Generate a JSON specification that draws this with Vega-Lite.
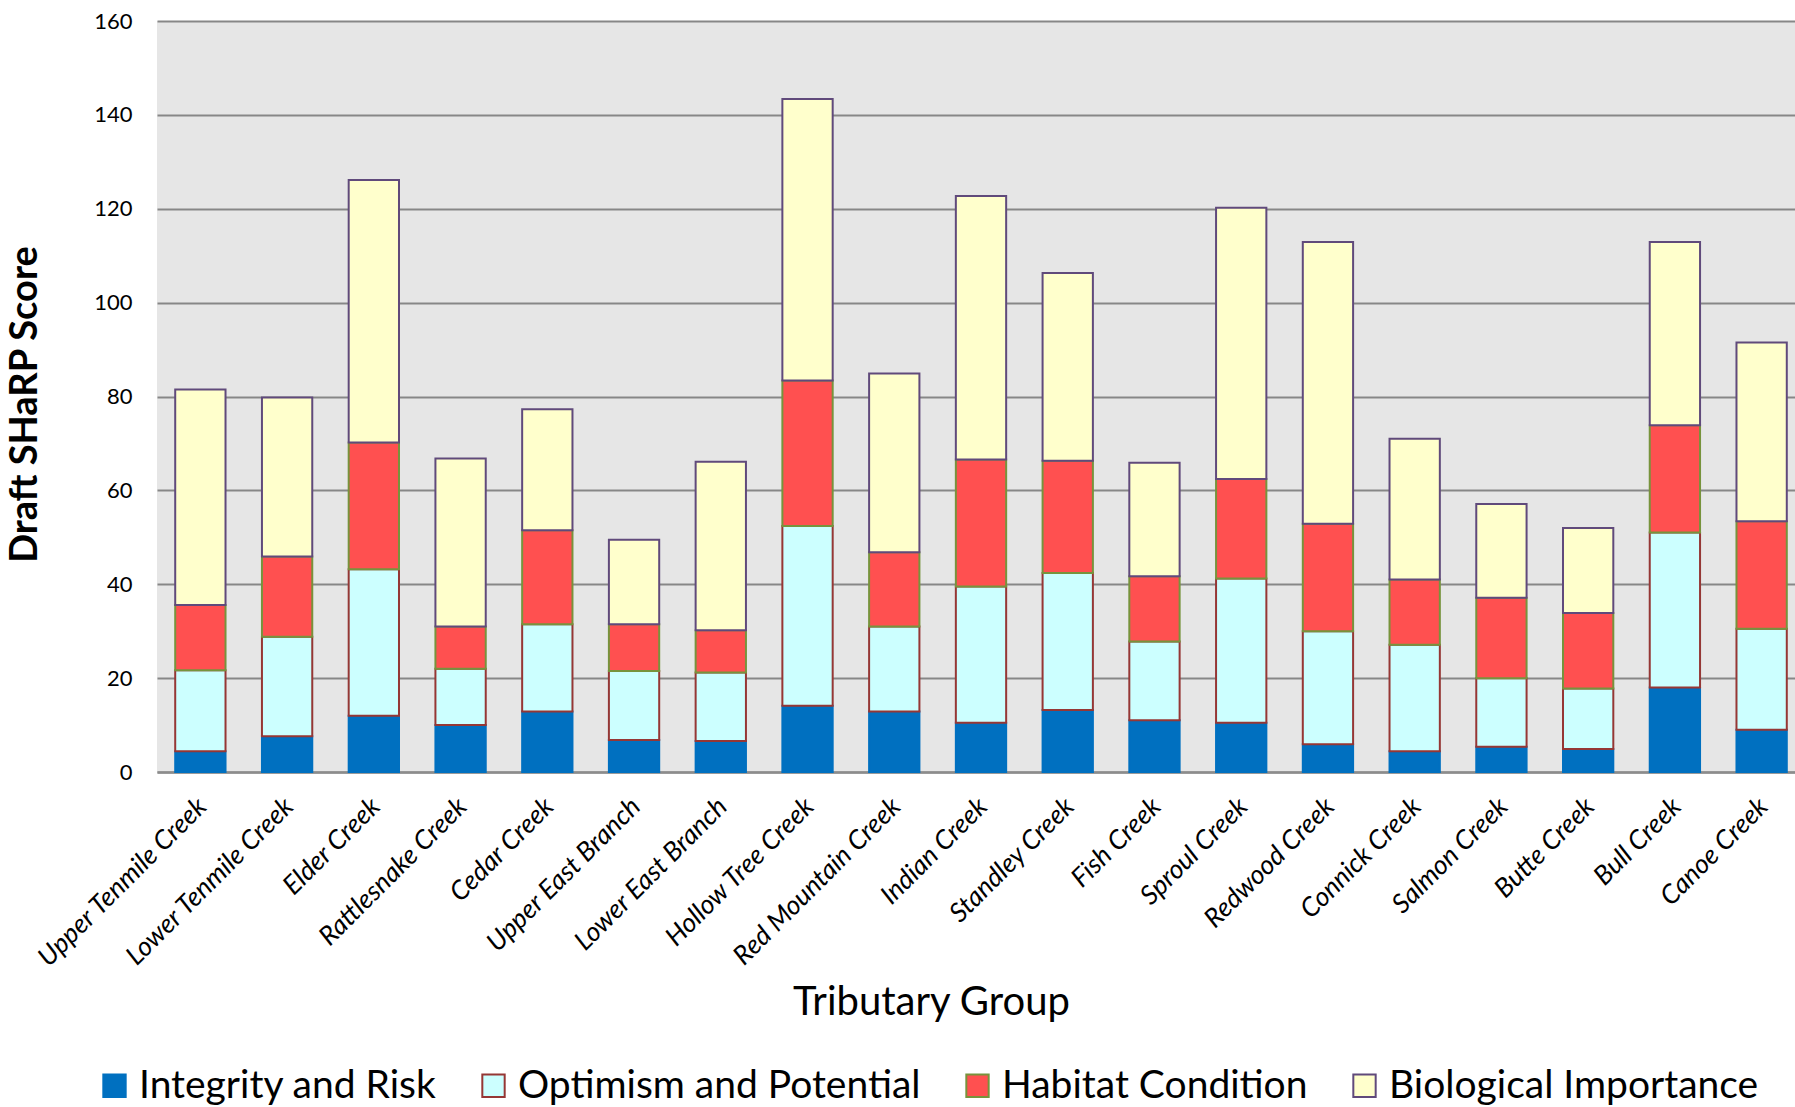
{
  "$schema": "https://vega.github.io/schema/vega-lite/v6.json",
  "width": 1648,
  "height": 751,
  "autosize": {"type": "none"},
  "padding": {"left": 157, "top": 21, "right": 0, "bottom": 335},
  "background": "white",
  "config": {
    "font": "Lato",
    "view": {"fill": "#e6e6e6", "stroke": null}
  },
  "data": {
    "values": [
      {"creek": "Upper Tenmile Creek", "Integrity and Risk": 4.4, "Optimism and Potential": 17.3, "Habitat Condition": 13.9, "Biological Importance": 45.9},
      {"creek": "Lower Tenmile Creek", "Integrity and Risk": 7.6, "Optimism and Potential": 21.2, "Habitat Condition": 17.1, "Biological Importance": 33.9},
      {"creek": "Elder Creek", "Integrity and Risk": 12.0, "Optimism and Potential": 31.2, "Habitat Condition": 27.0, "Biological Importance": 55.9},
      {"creek": "Rattlesnake Creek", "Integrity and Risk": 10.0, "Optimism and Potential": 12.0, "Habitat Condition": 9.0, "Biological Importance": 35.8},
      {"creek": "Cedar Creek", "Integrity and Risk": 12.9, "Optimism and Potential": 18.6, "Habitat Condition": 20.0, "Biological Importance": 25.8},
      {"creek": "Upper East Branch", "Integrity and Risk": 6.8, "Optimism and Potential": 14.7, "Habitat Condition": 10.0, "Biological Importance": 18.0},
      {"creek": "Lower East Branch", "Integrity and Risk": 6.6, "Optimism and Potential": 14.6, "Habitat Condition": 9.0, "Biological Importance": 35.9},
      {"creek": "Hollow Tree Creek", "Integrity and Risk": 14.1, "Optimism and Potential": 38.3, "Habitat Condition": 31.0, "Biological Importance": 60.0},
      {"creek": "Red Mountain Creek", "Integrity and Risk": 12.9, "Optimism and Potential": 18.1, "Habitat Condition": 15.8, "Biological Importance": 38.1},
      {"creek": "Indian Creek", "Integrity and Risk": 10.5, "Optimism and Potential": 29.0, "Habitat Condition": 27.1, "Biological Importance": 56.1},
      {"creek": "Standley  Creek", "Integrity and Risk": 13.2, "Optimism and Potential": 29.2, "Habitat Condition": 23.9, "Biological Importance": 40.0},
      {"creek": "Fish Creek", "Integrity and Risk": 11.0, "Optimism and Potential": 16.8, "Habitat Condition": 13.9, "Biological Importance": 24.2},
      {"creek": "Sproul Creek", "Integrity and Risk": 10.5, "Optimism and Potential": 30.7, "Habitat Condition": 21.2, "Biological Importance": 57.8},
      {"creek": "Redwood Creek", "Integrity and Risk": 5.9, "Optimism and Potential": 24.1, "Habitat Condition": 22.9, "Biological Importance": 60.0},
      {"creek": "Connick Creek", "Integrity and Risk": 4.4, "Optimism and Potential": 22.7, "Habitat Condition": 13.9, "Biological Importance": 30.0},
      {"creek": "Salmon Creek", "Integrity and Risk": 5.4, "Optimism and Potential": 14.6, "Habitat Condition": 17.1, "Biological Importance": 20.0},
      {"creek": "Butte Creek", "Integrity and Risk": 4.9, "Optimism and Potential": 12.9, "Habitat Condition": 16.1, "Biological Importance": 18.1},
      {"creek": "Bull Creek", "Integrity and Risk": 18.0, "Optimism and Potential": 33.0, "Habitat Condition": 22.9, "Biological Importance": 39.0},
      {"creek": "Canoe Creek", "Integrity and Risk": 9.0, "Optimism and Potential": 21.5, "Habitat Condition": 22.9, "Biological Importance": 38.1}
    ]
  },
  "transform": [
    {"fold": ["Integrity and Risk", "Optimism and Potential", "Habitat Condition", "Biological Importance"], "as": ["Category", "Score"]},
    {"window": [{"op": "row_number", "as": "layer"}], "groupby": ["creek"]}
  ],
  "mark": {"type": "bar", "strokeWidth": 2},
  "encoding": {
    "x": {
      "field": "creek",
      "type": "nominal",
      "sort": null,
      "scale": {"paddingInner": 0.42, "paddingOuter": 0.21},
      "axis": {
        "title": "Tributary Group",
        "titleFontSize": 40,
        "titleFontWeight": "normal",
        "titleColor": "#000000",
        "titleX": 774,
        "titleY": 230,
        "titleBaseline": "middle",
        "titleAlign": "center",
        "labelAngle": -45,
        "labelAlign": "right",
        "labelBaseline": "top",
        "labelPadding": 21,
        "labelOffset": -7,
        "labelFontSize": 26.5,
        "labelFontStyle": "italic",
        "labelColor": "#000000",
        "labelLimit": 600,
        "labelOverlap": false,
        "ticks": false,
        "domain": true,
        "domainColor": "#8c8c8c",
        "domainWidth": 2.5,
        "grid": false
      }
    },
    "y": {
      "field": "Score",
      "type": "quantitative",
      "stack": "zero",
      "scale": {"domain": [0, 160], "nice": false},
      "axis": {
        "title": "Draft SHaRP Score",
        "titleFontSize": 38,
        "titleFontWeight": "bold",
        "titleColor": "#000000",
        "titleX": -132,
        "titleY": 383,
        "titleAlign": "center",
        "titleBaseline": "middle",
        "values": [0, 20, 40, 60, 80, 100, 120, 140, 160],
        "labelFontSize": 22,
        "labelColor": "#000000",
        "labelPadding": 25,
        "ticks": false,
        "domain": false,
        "grid": true,
        "gridColor": "#878787",
        "gridWidth": 2
      }
    },
    "order": {"field": "layer", "type": "quantitative", "sort": "ascending"},
    "fill": {
      "field": "Category",
      "type": "nominal",
      "sort": ["Integrity and Risk", "Optimism and Potential", "Habitat Condition", "Biological Importance"],
      "scale": {
        "domain": ["Integrity and Risk", "Optimism and Potential", "Habitat Condition", "Biological Importance"],
        "range": ["#0070C0", "#CCFFFF", "#FF5050", "#FFFFCC"]
      },
      "legend": {
        "title": null,
        "orient": "none",
        "direction": "horizontal",
        "columns": 4,
        "legendX": -62,
        "legendY": 1045,
        "symbolType": "square",
        "symbolSize": 500,
        "symbolStrokeWidth": 2,
        "labelFontSize": 39,
        "labelColor": "#000000",
        "labelOffset": 5,
        "columnPadding": 37,
        "padding": 0,
        "labelLimit": 600
      }
    },
    "stroke": {
      "field": "Category",
      "type": "nominal",
      "sort": ["Integrity and Risk", "Optimism and Potential", "Habitat Condition", "Biological Importance"],
      "scale": {
        "domain": ["Integrity and Risk", "Optimism and Potential", "Habitat Condition", "Biological Importance"],
        "range": ["#0070C0", "#953735", "#77933C", "#604A7B"]
      },
      "legend": {
        "title": null,
        "orient": "none",
        "direction": "horizontal",
        "columns": 4,
        "legendX": -62,
        "legendY": 1045,
        "symbolType": "square",
        "symbolSize": 500,
        "symbolStrokeWidth": 2,
        "labelFontSize": 39,
        "labelColor": "#000000",
        "labelOffset": 5,
        "columnPadding": 37,
        "padding": 0,
        "labelLimit": 600
      }
    }
  }
}
